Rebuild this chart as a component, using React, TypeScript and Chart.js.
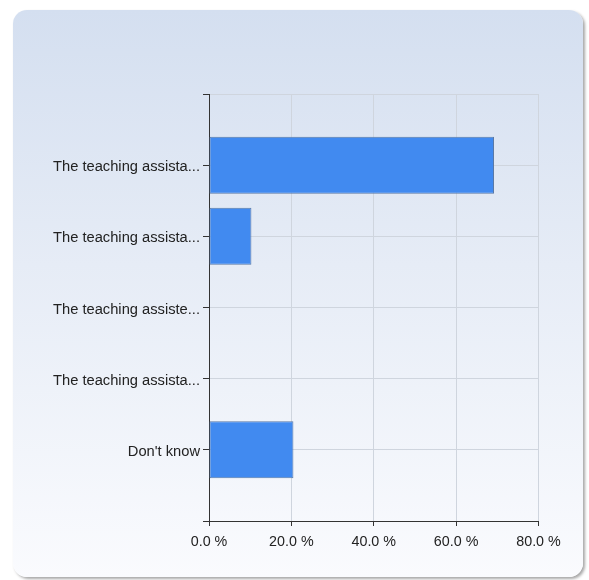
import React, { useEffect, useRef } from "react";
import { Chart, registerables } from "chart.js";

Chart.register(...registerables);

const categories = [
  "The teaching assista...",
  "The teaching assista...",
  "The teaching assiste...",
  "The teaching assista...",
  "Don't know",
];
const percentValues = [69.2, 10.3, 0, 0, 20.5];
const xTicks = [0, 20, 40, 60, 80];

export default function App() {
  const ref = useRef<HTMLCanvasElement | null>(null);

  useEffect(() => {
    if (!ref.current) return;
    const labels = ["", ...categories, ""];
    const data = [null, ...percentValues, null];
    const family = "'Liberation Sans', Arial, sans-serif";
    const chart = new Chart(ref.current, {
      type: "bar",
      data: {
        labels,
        datasets: [
          {
            data,
            backgroundColor: "#418af0",
            borderColor: "#5a79a6",
            borderWidth: 1,
            borderSkipped: false,
            categoryPercentage: 0.8,
            barPercentage: 1,
          },
        ],
      },
      options: {
        indexAxis: "y",
        animation: false,
        responsive: false,
        maintainAspectRatio: false,
        layout: { padding: { left: 0, top: 94, right: 50.5, bottom: 0 } },
        plugins: { legend: { display: false }, tooltip: { enabled: false } },
        scales: {
          y: {
            type: "category",
            offset: false,
            afterFit: (s: any) => {
              s.width = 209;
            },
            grid: {
              offset: false,
              color: "#cfd5de",
              tickColor: "#333333",
              tickLength: 6,
              drawTicks: true,
            },
            border: { color: "#333333", width: 1 },
            ticks: {
              color: "#222222",
              font: { family, size: 14.7 },
              padding: 3,
              labelOffset: 2,
              autoSkip: false,
            },
          },
          x: {
            type: "linear",
            min: 0,
            max: 80,
            afterFit: (s: any) => {
              s.height = 59;
            },
            afterBuildTicks: (s: any) => {
              s.ticks = xTicks.map((v) => ({ value: v }));
            },
            grid: {
              color: "#cfd5de",
              tickColor: "#333333",
              tickLength: 5,
            },
            border: { color: "#333333", width: 1 },
            ticks: {
              color: "#222222",
              font: { family, size: 14.3 },
              padding: 7,
              maxRotation: 0,
              callback: (v: any) => Number(v).toFixed(1) + " %",
            },
          },
        },
      },
    });
    return () => chart.destroy();
  }, []);

  return (
    <div
      style={{
        position: "fixed",
        left: 0,
        top: 0,
        width: 589,
        height: 580,
        background: "#ffffff",
        overflow: "hidden",
      }}
    >
      <div
        style={{
          position: "absolute",
          left: 13,
          top: 10,
          width: 570,
          height: 567,
          borderRadius: 14,
          background: "linear-gradient(to bottom, #d4dff0 0%, #e6ecf6 45%, #fafbfe 100%)",
          boxShadow: "2px 2px 3px rgba(0,0,0,0.35)",
        }}
      />
      <canvas
        ref={ref}
        width={589}
        height={580}
        style={{ position: "absolute", left: 0, top: 0, width: 589, height: 580 }}
      />
    </div>
  );
}
